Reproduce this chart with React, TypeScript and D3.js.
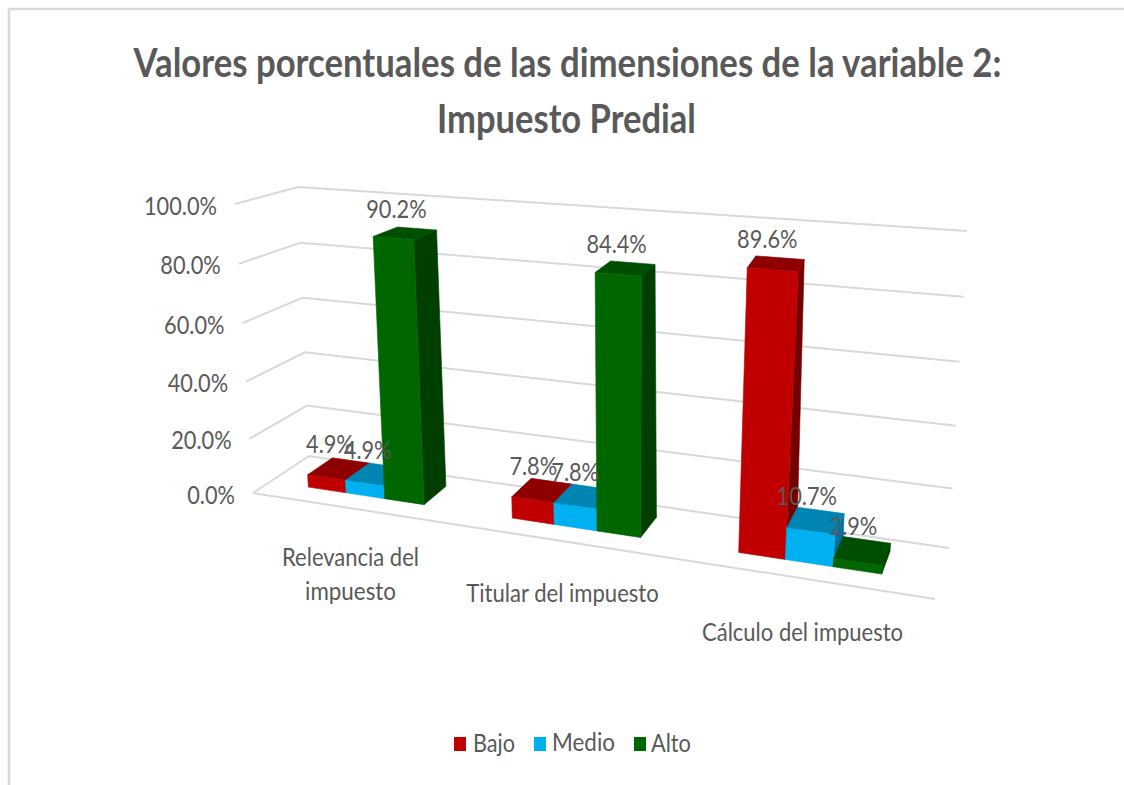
import React from "react";
import * as d3 from "d3";

const categories = ["Relevancia del impuesto", "Titular del impuesto", "Cálculo del impuesto"];
const seriesNames = ["Bajo", "Medio", "Alto"];
const bajo = [4.9, 7.8, 89.6];
const medio = [4.9, 7.8, 10.7];
const alto = [90.2, 84.4, 2.9];
const tickValues = [0, 20, 40, 60, 80, 100];

const seriesValues = [bajo, medio, alto];
const FRONT = ["#C00000", "#00B0F0", "#006600"];
const TOP = ["#8E0000", "#0085B2", "#004E00"];
const SIDE = ["#750000", "#0070A0", "#003F00"];
const TEXT = "#595959";
const GRID = "#D9D9D9";
const FONT = "Lato, 'Open Sans', sans-serif";

type Pt = [number, number];
function homography(a: Pt, b: Pt, c: Pt, d: Pt) {
  const dx1 = b[0] - d[0], dx2 = c[0] - d[0], sx = a[0] - b[0] + d[0] - c[0];
  const dy1 = b[1] - d[1], dy2 = c[1] - d[1], sy = a[1] - b[1] + d[1] - c[1];
  const den = dx1 * dy2 - dx2 * dy1;
  const g = (sx * dy2 - dx2 * sy) / den;
  const h = (dx1 * sy - sx * dy1) / den;
  return (u: number, v: number): Pt => {
    const w = g * u + h * v + 1;
    return [
      ((b[0] - a[0] + g * b[0]) * u + (c[0] - a[0] + h * c[0]) * v + a[0]) / w,
      ((b[1] - a[1] + g * b[1]) * u + (c[1] - a[1] + h * c[1]) * v + a[1]) / w,
    ];
  };
}
const floor = homography([253, 493], [935, 599], [309, 456], [949, 548]);
const roof = homography([235, 204], [975, 258], [298, 187], [967, 231]);
const heightScale = d3.scalePow().exponent(1.04).domain([0, 100]).range([0, 1]);
const P = (u: number, v: number, val: number): Pt => {
  const f = floor(u, v), t = roof(u, v), k = heightScale(val);
  return [f[0] + (t[0] - f[0]) * k, f[1] + (t[1] - f[1]) * k];
};
const groupScale = d3.scaleBand<string>().domain(categories).range([-0.0045, 0.9955]).paddingInner(0.42).paddingOuter(0.21);
const seriesScale = d3.scaleBand<string>().domain(seriesNames).range([0, groupScale.bandwidth()]);
const V0 = 0.3, V1 = 0.76;
const line = d3.line();
const poly = (pts: Pt[]) => line(pts) + "Z";

const ctx = document.createElement("canvas").getContext("2d") as CanvasRenderingContext2D;
function T(props: { x: number; y: number; w?: number; s?: number; size: number; weight?: number; anchor?: string; children: string }) {
  const { x, y, w, s, size, weight, anchor, children } = props;
  let sc = s ?? 1;
  if (w) {
    ctx.font = `${weight ?? 400} ${size}px Lato`;
    sc = w / ctx.measureText(children).width;
  }
  return (
    <text
      transform={`translate(${x},${y}) scale(${sc},1)`}
      fontFamily={FONT}
      fontSize={size}
      fontWeight={weight ?? 400}
      fill={TEXT}
      textAnchor={anchor ?? "middle"}
      dominantBaseline="central"
    >
      {children}
    </text>
  );
}

export default function App() {
  const bars: React.ReactNode[] = [];
  const labels: React.ReactNode[] = [];
  categories.forEach((cat, ci) => {
    seriesNames.forEach((sn, si) => {
      const val = seriesValues[si][ci];
      const u0 = (groupScale(cat) as number) + (seriesScale(sn) as number);
      const u1 = u0 + seriesScale.bandwidth();
      const fl = P(u0, V0, val), fr = P(u1, V0, val), bl = P(u0, V1, val), br = P(u1, V1, val);
      const fl0 = P(u0, V0, 0), fr0 = P(u1, V0, 0), br0 = P(u1, V1, 0);
      bars.push(
        <g key={cat + sn} strokeWidth={0.6}>
          <path d={poly([fr0, br0, br, fr])} fill={SIDE[si]} stroke={SIDE[si]} />
          <path d={poly([fl, fr, br, bl])} fill={TOP[si]} stroke={TOP[si]} />
          <path d={poly([fl0, fr0, fr, fl])} fill={FRONT[si]} stroke={FRONT[si]} />
        </g>
      );
      const a = P((u0 + u1) / 2, (V0 + V1) / 2, val);
      labels.push(
        <T key={cat + sn} x={a[0] - 9} y={a[1] - 25} size={25} s={0.87}>
          {d3.format(".1f")(val) + "%"}
        </T>
      );
    });
  });

  return (
    <svg width={1124} height={785} style={{ position: "absolute", left: 0, top: 0, display: "block", background: "#fff" }}>
      <path d="M9,785V9H1124" fill="none" stroke={GRID} strokeWidth={2.5} />
      <T x={567.5} y={61} w={869} size={41} weight={700}>Valores porcentuales de las dimensiones de la variable 2:</T>
      <T x={566.5} y={117} w={259} size={41} weight={700}>Impuesto Predial</T>

      {tickValues.map((t) => (
        <path key={t} d={line([P(0, 0, t), P(0, 1, t), P(1, 1, t)]) as string} fill="none" stroke={GRID} strokeWidth={2} />
      ))}
      <path d={line([P(0, 0, 0), P(1, 0, 0)]) as string} fill="none" stroke={GRID} strokeWidth={2} />

      {tickValues.map((t) => {
        const p = P(0, 0, t);
        return (
          <T key={t} x={p[0] - 18} y={p[1] + 1} size={25} s={0.87} anchor="end">
            {d3.format(".1f")(t) + "%"}
          </T>
        );
      })}

      {bars}
      {labels}

      <T x={350.5} y={556} w={137} size={25}>Relevancia del</T>
      <T x={350.5} y={591} w={91} size={25}>impuesto</T>
      <T x={562.5} y={592} w={193} size={25}>Titular del impuesto</T>
      <T x={802.5} y={631} w={201} size={25}>Cálculo del impuesto</T>

      {seriesNames.map((sn, i) => {
        const sx = [454, 534, 634][i];
        const tx = [473, 552, 651][i];
        const tw = [42, 63, 40][i];
        return (
          <g key={sn}>
            <rect x={sx} y={737} width={12} height={14} fill={FRONT[i]} />
            <T x={tx} y={742} w={tw} size={25} anchor="start">{sn}</T>
          </g>
        );
      })}
    </svg>
  );
}
